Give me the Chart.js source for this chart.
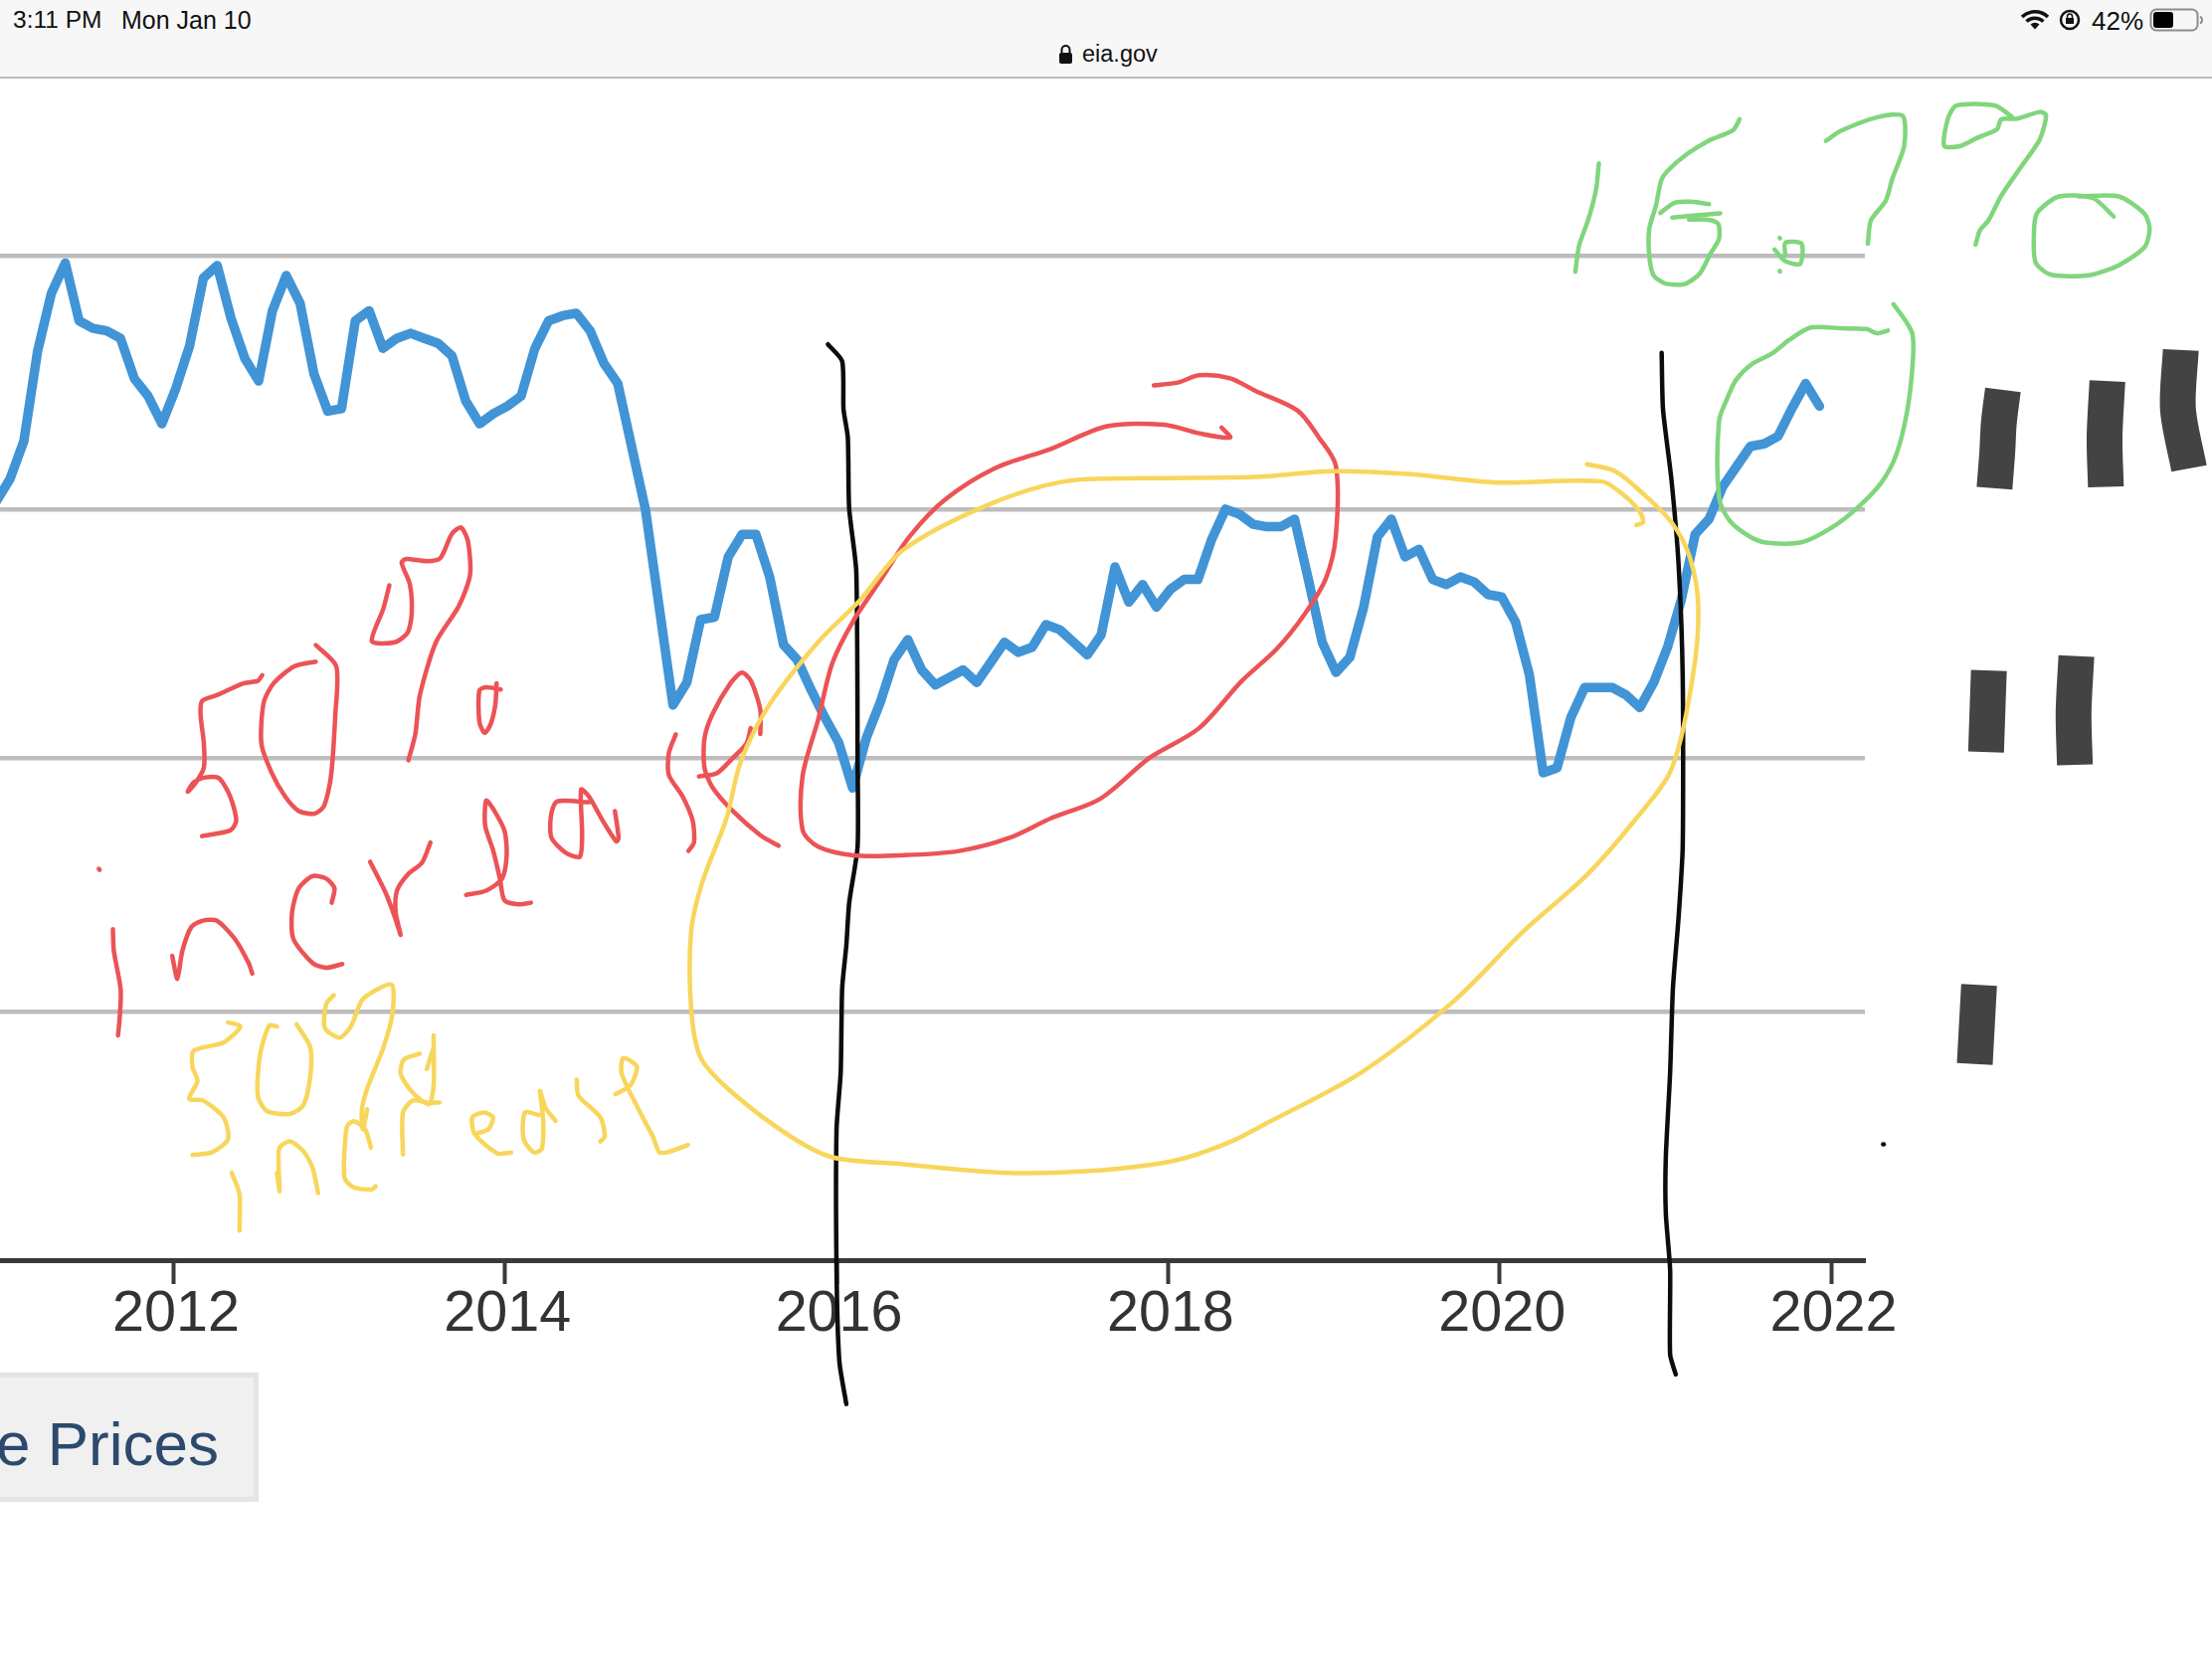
<!DOCTYPE html>
<html>
<head>
<meta charset="utf-8">
<title>eia.gov</title>
<script src="https://cdn.jsdelivr.net/npm/chart.js@4"></script>
<style>
html, body { margin: 0; padding: 0; background: #fff; width: 2224px; height: 1668px; overflow: hidden; font-family: "Liberation Sans", Arial, sans-serif; }
#chart { position: absolute; left: 0; top: 0; }
#topbar { position: absolute; left: 0; top: 0; width: 2224px; height: 77px; background: #f7f7f7; border-bottom: 2px solid #bcbcbc; color: #111; }
#topbar span, #topbar svg { position: absolute; white-space: nowrap; }
#button { position: absolute; left: -10px; top: 1380px; width: 260px; height: 120px; background: #f0f0f0; border: 5px solid #e4e4e4; overflow: hidden; }
#button span { position: absolute; right: 35px; top: 32px; font-size: 62px; line-height: 70px; color: #2c4a6e; white-space: nowrap; }
</style>
</head>
<body>
<canvas id="chart" width="2224" height="1668"></canvas>

<div id="topbar">
    <span style="left:13px;top:6px;font-size:24.5px;">3:11 PM</span>
    <span style="left:122px;top:6px;font-size:25px;">Mon Jan 10</span>
    <svg style="left:1064px;top:44px;" width="15" height="21" viewBox="0 0 15 21">
        <path d="M3.5 9V6a4 4 0 0 1 8 0v3" fill="none" stroke="#111" stroke-width="2"/>
        <rect x="1" y="9" width="13" height="11" rx="2" fill="#111"/>
    </svg>
    <span style="left:1088px;top:41px;font-size:23.5px;">eia.gov</span>
    <svg style="left:2032px;top:10px;" width="28" height="20" viewBox="0 0 28 20">
        <path d="M1 7a19 19 0 0 1 26 0M5.5 11.500a12.500 12.500 0 0 1 17 0" fill="none" stroke="#111" stroke-width="3.500"/>
        <path d="M9.500 14.500a6.500 6.500 0 0 1 9 0L14 19.500z" fill="#111"/>
    </svg>
    <svg style="left:2069px;top:9px;" width="24" height="22" viewBox="0 0 24 22">
        <circle cx="12" cy="11" r="9" fill="none" stroke="#111" stroke-width="2.500"/>
        <rect x="8" y="9" width="8" height="6" fill="#111"/>
        <path d="M9.500 9V7.500a2.500 2.500 0 0 1 5 0V9" fill="none" stroke="#111" stroke-width="1.500"/>
    </svg>
    <span style="left:2103px;top:6px;font-size:26px;">42%</span>
    <svg style="left:2161px;top:8px;" width="56" height="24" viewBox="0 0 56 24">
        <rect x="1.500" y="1.500" width="47" height="21" rx="5.500" fill="none" stroke="#8c8c8c" stroke-width="2"/>
        <rect x="4" y="4" width="20" height="16" rx="3" fill="#000"/>
        <path d="M51 8.500a4 4 0 0 1 0 7" fill="none" stroke="#8c8c8c" stroke-width="2"/>
    </svg>
</div>

<div id="button"><span>e Prices</span></div>

<script>
const tickYears = [2012, 2014, 2016, 2018, 2020, 2022];
const gridPrices = [0.99, 2, 2.99, 4];

// monthly, first value is Dec 2010
const firstMonth = 2010.93;
const prices = [
    3.02,
    3.11, 3.26, 3.62, 3.85, 3.97, 3.74, 3.71, 3.70, 3.67, 3.51, 3.44, 3.33,
    3.47, 3.64, 3.91, 3.96, 3.75, 3.59, 3.50, 3.78, 3.92, 3.81, 3.53, 3.38,
    3.39, 3.74, 3.78, 3.63, 3.67, 3.69, 3.67, 3.65, 3.60, 3.42, 3.33, 3.37,
    3.40, 3.44, 3.63, 3.74, 3.76, 3.77, 3.70, 3.57, 3.49, 3.24, 2.99, 2.60,
    2.21, 2.30, 2.55, 2.56, 2.80, 2.89, 2.89, 2.72, 2.45, 2.39, 2.27, 2.16,
    2.06, 1.88, 2.08, 2.22, 2.39, 2.47, 2.35, 2.29, 2.32, 2.35, 2.30, 2.38,
    2.46, 2.42, 2.44, 2.53, 2.51, 2.46, 2.41, 2.49, 2.76, 2.62, 2.69, 2.60,
    2.67, 2.71, 2.71, 2.87, 2.99, 2.97, 2.93, 2.92, 2.92, 2.95, 2.71, 2.46,
    2.34, 2.40, 2.60, 2.88, 2.95, 2.80, 2.83, 2.71, 2.69, 2.72, 2.70, 2.65,
    2.64, 2.54, 2.33, 1.94, 1.96, 2.16, 2.28, 2.28, 2.28, 2.25, 2.20, 2.30,
    2.44, 2.63, 2.89, 2.95, 3.08, 3.16, 3.24, 3.25, 3.28, 3.39, 3.49, 3.40
];

const blackLines = [
    [2015.948,3.646, 2016.034,3.579, 2016.042,3.388, 2016.068,3.275, 2016.076,2.994, 2016.119,2.742, 2016.127,1.983, 2016.127,1.646, 2016.076,1.421, 2016.059,1.253, 2016.034,1.084, 2016.025,0.747, 2016.000,0.522, 2016.000,-0.039, 2016.017,-0.404, 2016.059,-0.573],
    [2020.978,3.612, 2020.986,3.388, 2021.037,3.107, 2021.080,2.770, 2021.105,2.320, 2021.105,1.646, 2021.080,1.365, 2021.046,1.084, 2021.029,0.747, 2021.003,0.410, 2021.003,0.186, 2021.029,-0.039, 2021.029,-0.376, 2021.063,-0.455],
    [2022.318,0.461, 2022.314,0.461]
];

const redLoop = [
    [2017.914,3.483, 2018.059,3.494, 2018.187,3.523, 2018.374,3.511, 2018.527,3.461, 2018.782,3.382, 2018.910,3.275, 2019.012,3.163, 2019.012,2.882, 2018.952,2.714, 2018.825,2.573, 2018.655,2.433, 2018.442,2.304, 2018.187,2.118, 2017.889,2.000, 2017.591,1.837, 2017.293,1.759, 2017.038,1.680, 2016.740,1.629, 2016.399,1.612, 2016.101,1.612, 2015.889,1.646, 2015.795,1.714, 2015.795,1.927, 2015.889,2.152, 2015.974,2.376, 2016.101,2.545, 2016.272,2.714, 2016.442,2.882, 2016.655,3.028, 2016.953,3.152, 2017.293,3.230, 2017.633,3.320, 2017.974,3.326, 2018.187,3.292, 2018.374,3.275, 2018.323,3.315]
];

const redWords = [
    // 50%
    [2012.535,2.329, 2012.508,2.306, 2012.425,2.297, 2012.260,2.249, 2012.172,2.226, 2012.163,2.172, 2012.183,2.057, 2012.183,1.961, 2012.136,1.903, 2012.086,1.865, 2012.122,1.903, 2012.191,1.922, 2012.274,1.919, 2012.342,1.846, 2012.378,1.750, 2012.342,1.711, 2012.172,1.688],
    [2012.858,2.383, 2012.728,2.364, 2012.604,2.297, 2012.544,2.220, 2012.530,2.057, 2012.591,1.942, 2012.673,1.846, 2012.756,1.788, 2012.852,1.778, 2012.907,1.807, 2012.949,1.922, 2012.976,2.172, 2012.982,2.364, 2012.858,2.449],
    [2013.302,2.687, 2013.266,2.594, 2013.197,2.464, 2013.335,2.460, 2013.412,2.498, 2013.437,2.575, 2013.426,2.690, 2013.376,2.777, 2013.404,2.792, 2013.528,2.783, 2013.610,2.796, 2013.679,2.892, 2013.734,2.917, 2013.776,2.863, 2013.789,2.729, 2013.721,2.604, 2013.583,2.460, 2013.486,2.249, 2013.459,2.095, 2013.417,1.990],
    [2013.949,2.297, 2013.941,2.210, 2013.913,2.134, 2013.877,2.099, 2013.845,2.143, 2013.845,2.268, 2013.886,2.281, 2013.974,2.272],
    // increase
    [2011.549,1.558, 2011.554,1.554],
    [2011.634,1.318, 2011.640,1.231, 2011.681,1.078, 2011.676,0.972, 2011.665,0.895],
    [2011.992,1.212, 2012.023,1.120, 2012.053,1.231, 2012.108,1.327, 2012.177,1.352, 2012.260,1.352, 2012.370,1.279, 2012.453,1.183, 2012.475,1.141],
    [2012.954,1.423, 2012.971,1.481, 2012.921,1.519, 2012.839,1.529, 2012.756,1.481, 2012.715,1.385, 2012.723,1.279, 2012.839,1.183, 2012.921,1.164, 2013.018,1.179],
    [2013.186,1.586, 2013.280,1.462, 2013.335,1.366, 2013.370,1.295, 2013.340,1.385, 2013.348,1.471, 2013.417,1.538, 2013.500,1.583, 2013.550,1.663],
    [2013.765,1.454, 2013.886,1.471, 2013.982,1.519, 2014.010,1.615, 2013.996,1.711, 2013.927,1.798, 2013.886,1.830, 2013.880,1.730, 2013.927,1.634, 2013.969,1.519, 2013.996,1.433, 2014.079,1.417, 2014.156,1.423],
    [2014.506,1.823, 2014.313,1.826, 2014.277,1.769, 2014.280,1.682, 2014.368,1.621, 2014.451,1.606, 2014.465,1.692, 2014.459,1.874, 2014.506,1.846, 2014.589,1.750, 2014.671,1.667, 2014.685,1.682, 2014.663,1.788],
    [2015.030,2.093, 2014.988,2.018, 2014.988,1.932, 2015.071,1.846, 2015.132,1.750, 2015.140,1.663, 2015.107,1.629],
    [2015.170,1.926, 2015.277,1.938, 2015.374,1.999, 2015.457,2.057, 2015.482,2.118],
    [2015.540,2.095, 2015.540,2.191, 2015.484,2.306, 2015.429,2.339, 2015.360,2.297, 2015.250,2.172, 2015.203,2.076, 2015.203,1.961, 2015.250,1.884, 2015.374,1.788, 2015.540,1.692, 2015.650,1.650]
];

const yellowLoop = [
    [2020.527,3.169, 2020.697,3.141, 2020.867,3.051, 2021.037,2.938, 2021.148,2.798, 2021.199,2.601, 2021.165,2.320, 2021.037,1.955, 2020.825,1.759, 2020.527,1.534, 2020.144,1.309, 2019.718,1.028, 2019.165,0.747, 2018.612,0.551, 2018.357,0.466, 2018.016,0.393, 2017.506,0.354, 2016.995,0.348, 2016.399,0.382, 2015.974,0.410, 2015.719,0.494, 2015.378,0.663, 2015.182,0.804, 2015.123,1.000, 2015.123,1.309, 2015.191,1.506, 2015.336,1.759, 2015.421,1.983, 2015.591,2.208, 2015.889,2.461, 2016.144,2.629, 2016.399,2.826, 2016.910,3.006, 2017.378,3.101, 2017.846,3.113, 2018.527,3.118, 2018.995,3.141, 2019.463,3.129, 2019.974,3.096, 2020.612,3.101, 2020.740,3.051, 2020.842,2.983, 2020.867,2.938, 2020.825,2.927]
];

const yellowWords = [
    // 50%
    [2012.329,0.947, 2012.403,0.930, 2012.301,0.866, 2012.122,0.834, 2012.114,0.770, 2012.144,0.713, 2012.094,0.642, 2012.177,0.636, 2012.301,0.569, 2012.329,0.482, 2012.232,0.429, 2012.114,0.419],
    [2012.624,0.930, 2012.577,0.934, 2012.522,0.818, 2012.508,0.655, 2012.563,0.594, 2012.701,0.582, 2012.783,0.617, 2012.825,0.732, 2012.825,0.847, 2012.742,0.939],
    [2012.968,1.055, 2012.921,1.020, 2012.913,0.924, 2013.004,0.886, 2013.073,0.934, 2013.142,1.039, 2013.315,1.097, 2013.321,0.982, 2013.266,0.847, 2013.169,0.684, 2013.136,0.598, 2013.142,0.521, 2013.169,0.601],
    // increase
    [2012.351,0.348, 2012.398,0.262, 2012.398,0.118],
    [2012.624,0.348, 2012.640,0.275, 2012.637,0.444, 2012.701,0.473, 2012.783,0.434, 2012.839,0.367, 2012.872,0.267],
    [2013.191,0.448, 2013.156,0.521, 2013.087,0.553, 2013.045,0.530, 2013.031,0.329, 2013.087,0.290, 2013.197,0.281, 2013.219,0.294],
    [2013.384,0.421, 2013.384,0.588, 2013.445,0.636, 2013.541,0.626, 2013.605,0.628],
    [2013.486,0.822, 2013.390,0.799, 2013.370,0.742, 2013.445,0.665, 2013.541,0.621, 2013.569,0.694, 2013.569,0.895],
    [2013.528,0.761, 2013.569,0.847],
    [2013.831,0.505, 2013.900,0.521, 2013.927,0.569, 2013.872,0.588, 2013.803,0.569, 2013.817,0.502, 2013.955,0.425, 2014.037,0.429],
    [2014.203,0.578, 2014.120,0.588, 2014.112,0.482, 2014.175,0.429, 2014.222,0.444, 2014.230,0.559, 2014.211,0.674, 2014.244,0.607, 2014.305,0.555],
    [2014.432,0.719, 2014.443,0.655, 2014.575,0.569, 2014.602,0.492, 2014.575,0.473],
    [2014.666,0.661, 2014.754,0.694, 2014.795,0.770, 2014.713,0.805, 2014.704,0.742, 2014.823,0.578, 2014.892,0.492, 2014.933,0.429, 2015.002,0.434, 2015.104,0.459]
];

const greenLoop = [
    [2022.343,3.701, 2022.278,3.690, 2022.214,3.707, 2022.059,3.710, 2021.878,3.713, 2021.749,3.664, 2021.646,3.611, 2021.517,3.565, 2021.427,3.505, 2021.375,3.433, 2021.324,3.340, 2021.324,3.037, 2021.388,2.944, 2021.517,2.878, 2021.620,2.856, 2021.827,2.859, 2022.007,2.918, 2022.162,2.997, 2022.304,3.096, 2022.394,3.208, 2022.459,3.380, 2022.492,3.565, 2022.492,3.684, 2022.446,3.743, 2022.376,3.806]
];

// 16.7%
const greenWords = [
    [2020.599,4.367, 2020.583,4.265, 2020.537,4.146, 2020.480,4.040, 2020.457,3.935],
    [2021.448,4.542, 2021.409,4.499, 2021.259,4.456, 2021.130,4.403, 2021.014,4.337, 2020.975,4.298, 2020.944,4.199, 2020.903,4.106, 2020.903,4.000, 2020.929,3.921, 2021.001,3.888, 2021.117,3.886, 2021.208,3.928, 2021.272,4.007, 2021.324,4.066, 2021.319,4.126, 2021.259,4.142, 2021.143,4.143],
    [2020.970,4.169, 2021.053,4.209, 2021.156,4.214, 2021.264,4.204],
    [2021.042,4.151, 2021.331,4.168],
    [2021.659,4.024, 2021.724,3.977, 2021.814,3.967, 2021.822,4.047, 2021.724,4.051, 2021.724,4.000],
    [2021.690,4.070, 2021.692,4.068],
    [2021.690,3.938, 2021.692,3.936],
    [2021.969,4.456, 2022.059,4.496, 2022.291,4.552, 2022.433,4.555, 2022.441,4.436, 2022.369,4.304, 2022.330,4.218, 2022.240,4.139, 2022.222,4.047],
    [2023.091,4.552, 2022.988,4.597, 2022.756,4.597, 2022.704,4.542, 2022.683,4.436, 2022.781,4.436, 2022.885,4.469, 2023.001,4.502, 2023.027,4.542, 2023.117,4.544, 2023.259,4.571, 2023.297,4.558, 2023.259,4.462, 2023.143,4.350, 2023.027,4.238, 2022.949,4.139, 2022.898,4.100, 2022.872,4.043],
    [2023.705,4.155, 2023.581,4.228, 2023.375,4.235, 2023.246,4.172, 2023.225,4.106, 2023.233,3.974, 2023.323,3.924, 2023.555,3.921, 2023.736,3.961, 2023.891,4.033, 2023.922,4.106, 2023.891,4.166, 2023.736,4.235, 2023.491,4.235]
];

// the axis labels blacked out with a marker
const markerBars = [
    [2023.037,3.465, 2023.012,3.332, 2023.003,3.219, 2022.986,3.073],
    [2023.667,3.500, 2023.650,3.275, 2023.658,3.079],
    [2024.110,3.624, 2024.093,3.388, 2024.160,3.152],
    [2022.952,2.348, 2022.935,2.023],
    [2023.480,2.405, 2023.463,2.180, 2023.471,1.972],
    [2022.893,1.096, 2022.867,0.781]
];

function strokeData(flat) {
    const pts = [];
    for (let i = 0; i < flat.length; i += 2) {
        pts.push({ x: flat[i], y: flat[i + 1] });
    }
    return pts;
}

function strokeSets(list, color, width, tension, cap) {
    return list.map(function(flat) {
        return {
            data: strokeData(flat),
            borderColor: color,
            borderWidth: width,
            tension: tension,
            capBezierPoints: false,
            borderCapStyle: cap || 'round',
            borderJoinStyle: 'round',
            pointRadius: 0,
            clip: false
        };
    });
}

// first dataset ends up on top
const datasets = [].concat(
    strokeSets(yellowLoop, '#f8d65c', 4.5, 0.3),
    strokeSets(yellowWords, '#f8d65c', 4.5, 0.25),
    strokeSets(redLoop, '#ec5356', 4.5, 0.3),
    strokeSets(redWords, '#ec5356', 4.5, 0.25),
    strokeSets(greenLoop, '#80d67c', 4.5, 0.3),
    strokeSets(greenWords, '#80d67c', 4.5, 0.25),
    strokeSets(blackLines, '#0c0c0c', 4.5, 0.2),
    strokeSets(markerBars, '#434343', 36, 0.3, 'butt'),
    [{
        label: 'Price',
        data: prices.map(function(p, i) { return { x: firstMonth + i / 12, y: p }; }),
        borderColor: '#4194d6',
        borderWidth: 9.5,
        tension: 0,
        borderCapStyle: 'round',
        borderJoinStyle: 'round',
        pointRadius: 0
    }]
);

document.addEventListener("DOMContentLoaded", function() {
    const ctx = document.getElementById('chart').getContext('2d');
    new Chart(ctx, {
        type: 'line',
        data: { datasets: datasets },
        options: {
            responsive: false,
            animation: false,
            events: [],
            layout: { padding: { left: 0, top: 0, right: 349, bottom: 0 } },
            plugins: { legend: { display: false }, tooltip: { enabled: false }, title: { display: false } },
            scales: {
                x: {
                    type: 'linear',
                    min: 2010.953,
                    max: 2022.204,
                    afterBuildTicks: function(scale) {
                        scale.ticks = tickYears.map(function(v) { return { value: v }; });
                    },
                    afterFit: function(scale) {
                        scale.height = 401;
                        scale.paddingLeft = 0;
                        scale.paddingRight = 0;
                    },
                    border: { display: true, color: '#3a3a3a', width: 5 },
                    grid: { drawOnChartArea: false, drawTicks: true, tickLength: 24, tickWidth: 4, tickColor: '#3a3a3a' },
                    ticks: {
                        autoSkip: false,
                        maxRotation: 0,
                        padding: -3,
                        labelOffset: 2.5,
                        color: '#333333',
                        font: { family: '"Liberation Sans"', size: 57.5 },
                        callback: function(v) { return String(v); }
                    }
                },
                y: {
                    type: 'linear',
                    min: 0,
                    max: 5.017,
                    afterBuildTicks: function(scale) {
                        scale.ticks = gridPrices.map(function(v) { return { value: v }; });
                    },
                    afterFit: function(scale) {
                        scale.width = 0;
                        scale.paddingTop = 0;
                        scale.paddingBottom = 0;
                    },
                    border: { display: false },
                    grid: { color: '#bdbdbd', lineWidth: 4.5, drawTicks: false },
                    ticks: { display: false }
                }
            }
        }
    });
});
</script>
</body>
</html>
